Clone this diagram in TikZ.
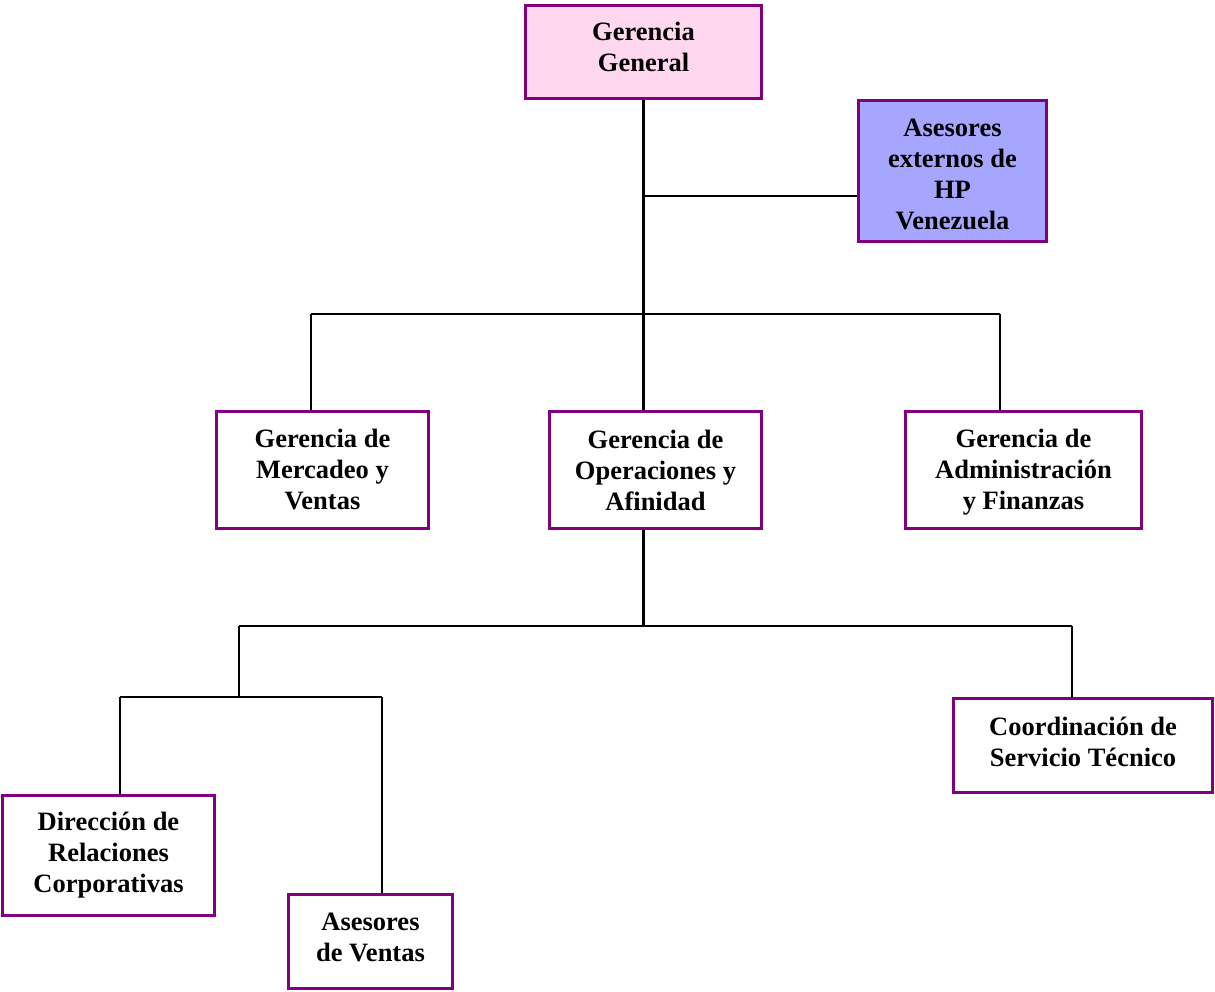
\documentclass[tikz,border=0pt]{standalone}
\usepackage{fontspec}
\setmainfont{Liberation Serif}
\definecolor{boxborder}{HTML}{800080}
\definecolor{pinkfill}{HTML}{FFD7EE}
\definecolor{bluefill}{HTML}{A6A6FF}
\begin{document}
\begin{tikzpicture}[x=1pt,y=-1pt,
  orgbox/.style={draw=boxborder, line width=3.1pt, fill=white, inner sep=0pt},
  boxtext/.style={inner sep=0pt, align=center, font=\fontsize{26.5}{31}\selectfont\bfseries},
  conn/.style={draw=black, line width=2.8pt}]
\useasboundingbox (0,0) rectangle (1215,992);
\node[orgbox, fill=pinkfill, minimum width=236pt, minimum height=93pt] (gg) at (643.5,52) {};
\node[boxtext] (ggt) at ([yshift=5pt]gg.center) {Gerencia\\General};
\node[orgbox, fill=bluefill, minimum width=188pt, minimum height=141pt] (ase) at (952.5,171) {};
\node[boxtext] (aset) at ([yshift=-3pt]ase.center) {Asesores\\externos de\\HP\\Venezuela};
\node[orgbox, minimum width=212pt, minimum height=117pt] (mer) at (322.5,470) {};
\node[boxtext] (mert) at (mer.center) {Gerencia de\\Mercadeo y\\Ventas};
\node[orgbox, minimum width=212pt, minimum height=117pt] (ops) at (655.5,470) {};
\node[boxtext] (opst) at (ops.center) {Gerencia de\\Operaciones y\\Afinidad};
\node[orgbox, minimum width=236pt, minimum height=117pt] (adm) at (1023.5,470) {};
\node[boxtext] (admt) at ([yshift=-2pt]adm.center) {Gerencia de\\Administración\\y Finanzas};
\node[orgbox, minimum width=259pt, minimum height=94pt] (coo) at (1083,745.5) {};
\node[boxtext] (coot) at ([yshift=4pt]coo.center) {Coordinación de\\Servicio Técnico};
\node[orgbox, minimum width=212pt, minimum height=120pt] (dir) at (108.5,855.5) {};
\node[boxtext] (dirt) at (dir.center) {Dirección de\\Relaciones\\Corporativas};
\node[orgbox, minimum width=164pt, minimum height=94pt] (asv) at (370.5,941.5) {};
\node[boxtext] (asvt) at ([yshift=4pt]asv.center) {Asesores\\de Ventas};
\coordinate (ja) at (643.5,196);
\coordinate (h1l) at (311,314);
\coordinate (h1r) at (1000,314);
\coordinate (h1m) at (643.5,314);
\coordinate (h2m) at (643.5,626);
\coordinate (h2l) at (239,626);
\coordinate (h2r) at (1072,626);
\coordinate (h3l) at (120,697);
\coordinate (h3r) at (382,697);
\coordinate (h3m) at (239,697);
\draw[conn] (gg.south) -- (h1m);
\draw[conn] (ja) -- (ja -| ase.west);
\draw[conn] (h1l) -- (h1r);
\draw[conn] (h1l) -- (h1l |- mer.north);
\draw[conn] (h1m) -- (h1m |- ops.north);
\draw[conn] (h1r) -- (h1r |- adm.north);
\draw[conn] (h1m |- ops.south) -- (h2m);
\draw[conn] (h2l) -- (h2r);
\draw[conn] (h2r) -- (h2r |- coo.north);
\draw[conn] (h2l) -- (h3m);
\draw[conn] (h3l) -- (h3r);
\draw[conn] (h3l) -- (h3l |- dir.north);
\draw[conn] (h3r) -- (h3r |- asv.north);
\end{tikzpicture}
\end{document}
